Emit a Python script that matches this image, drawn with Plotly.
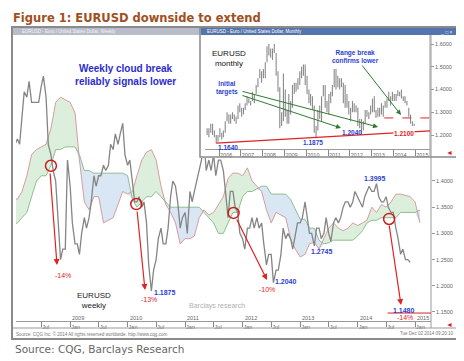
import numpy as np
import pandas as pd
import plotly.graph_objects as go

W, H = 464, 361
def px(x): return x / W
def py(y): return 1 - y / H

# ---------------- weekly chart: EURUSD (semi-monthly samples) ----------------
close_2008 = [1.46,1.47,1.48,1.47,1.52,1.57,1.56,1.59,1.55,1.55,1.55,1.55,1.58,1.60,1.56,1.47,1.45,1.42,1.40,1.34,1.25,1.27,1.27,1.44]
close_2009 = [1.39,1.32,1.28,1.28,1.26,1.30,1.33,1.31,1.33,1.36,1.41,1.39,1.41,1.41,1.43,1.42,1.43,1.47,1.46,1.49,1.47,1.49,1.51,1.45]
close_2010 = [1.43,1.44,1.39,1.36,1.36,1.37,1.35,1.36,1.32,1.24,1.19,1.23,1.25,1.29,1.31,1.28,1.28,1.31,1.37,1.40,1.39,1.36,1.31,1.33]
close_2011 = [1.34,1.30,1.38,1.36,1.38,1.40,1.42,1.44,1.48,1.42,1.44,1.42,1.45,1.41,1.44,1.44,1.42,1.37,1.33,1.38,1.38,1.35,1.34,1.30]
close_2012 = [1.29,1.27,1.31,1.31,1.33,1.31,1.33,1.31,1.32,1.28,1.24,1.26,1.26,1.206,1.23,1.23,1.26,1.31,1.29,1.30,1.29,1.27,1.30,1.32]
close_2013 = [1.32,1.33,1.36,1.33,1.30,1.30,1.276,1.31,1.31,1.29,1.30,1.33,1.30,1.285,1.32,1.33,1.32,1.33,1.35,1.36,1.36,1.35,1.36,1.38]
close_2014 = [1.37,1.36,1.35,1.37,1.38,1.39,1.38,1.38,1.395,1.37,1.36,1.36,1.37,1.35,1.34,1.34,1.31,1.29,1.26,1.27,1.25,1.25,1.245]
price = close_2008 + close_2009 + close_2010 + close_2011 + close_2012 + close_2013 + close_2014
price_dates = pd.date_range('2008-01-01', periods=len(price), freq='SMS')

# Ichimoku cloud (monthly readings): span A (pink) and span B (green)
span_a_2008 = [1.37,1.365,1.38,1.41,1.45,1.46,1.465,1.47,1.50,1.55,1.56,1.555]
span_b_2008 = [1.315,1.32,1.33,1.34,1.37,1.40,1.41,1.41,1.43,1.46,1.46,1.465]
span_a_2009 = [1.55,1.53,1.44,1.36,1.345,1.37,1.37,1.32,1.325,1.33,1.355,1.38]
span_b_2009 = [1.465,1.465,1.45,1.42,1.42,1.415,1.415,1.415,1.415,1.415,1.415,1.415]
span_a_2010 = [1.375,1.38,1.41,1.44,1.455,1.46,1.44,1.39,1.355,1.34,1.32,1.28]
span_b_2010 = [1.41,1.365,1.35,1.36,1.37,1.37,1.38,1.37,1.36,1.35,1.35,1.35]
span_a_2011 = [1.29,1.29,1.295,1.33,1.345,1.335,1.34,1.355,1.37,1.405,1.415,1.415]
span_b_2011 = [1.35,1.35,1.35,1.35,1.34,1.33,1.32,1.30,1.30,1.32,1.34,1.34]
span_a_2012 = [1.41,1.425,1.40,1.39,1.38,1.345,1.32,1.34,1.335,1.33,1.29,1.27]
span_b_2012 = [1.37,1.38,1.38,1.385,1.39,1.39,1.375,1.375,1.375,1.375,1.365,1.345]
span_a_2013 = [1.255,1.26,1.28,1.283,1.27,1.29,1.31,1.32,1.31,1.305,1.31,1.32]
span_b_2013 = [1.327,1.327,1.31,1.31,1.287,1.28,1.282,1.287,1.287,1.287,1.287,1.287]
span_a_2014 = [1.315,1.32,1.325,1.35,1.34,1.355,1.35,1.36,1.375,1.375,1.373,1.37]
span_b_2014 = [1.295,1.305,1.32,1.325,1.325,1.33,1.33,1.33,1.33,1.34,1.34,1.34]
span_a_2015 = [1.36,1.32]
span_b_2015 = [1.34,1.345]
span_a = span_a_2008 + span_a_2009 + span_a_2010 + span_a_2011 + span_a_2012 + span_a_2013 + span_a_2014 + span_a_2015
span_b = span_b_2008 + span_b_2009 + span_b_2010 + span_b_2011 + span_b_2012 + span_b_2013 + span_b_2014 + span_b_2015
cloud_dates = pd.date_range('2008-01-01', periods=len(span_a), freq='MS')
cloud_low = np.minimum(span_a, span_b)

break_dates = ['2008-09-01', '2010-02-25', '2011-11-05', '2014-07-20']
break_prices = [1.429, 1.356, 1.339, 1.3275]
target_level = 1.148

main_ytick_vals = [1.15, 1.20, 1.25, 1.30, 1.35, 1.40]
main_tick_dates = pd.date_range('2008-07-01', '2015-01-01', freq='6MS')
main_tick_text = ['Jul' if d.month == 7 else 'Jan' for d in main_tick_dates]
main_years = [2009, 2010, 2011, 2012, 2013, 2014, 2015]

# ---------------- monthly inset: EURUSD monthly high / low ----------------
m_low_2005 = [1.20,1.19,1.21,1.20,1.19,1.164,1.17]
m_high_2005 = [1.23,1.23,1.25,1.25,1.22,1.20,1.20]
m_low_2006 = [1.19,1.18,1.19,1.21,1.26,1.25,1.25,1.27,1.26,1.25,1.27,1.30]
m_high_2006 = [1.23,1.21,1.22,1.26,1.30,1.29,1.29,1.30,1.29,1.28,1.33,1.34]
m_low_2007 = [1.28,1.29,1.31,1.33,1.34,1.33,1.35,1.34,1.38,1.41,1.45,1.43]
m_high_2007 = [1.32,1.32,1.34,1.37,1.36,1.35,1.39,1.38,1.42,1.45,1.49,1.48]
m_low_2008 = [1.45,1.45,1.52,1.55,1.54,1.53,1.56,1.46,1.39,1.23,1.24,1.26]
m_high_2008 = [1.49,1.52,1.59,1.60,1.58,1.58,1.60,1.56,1.48,1.41,1.30,1.47]
m_low_2009 = [1.28,1.25,1.25,1.29,1.32,1.38,1.39,1.40,1.42,1.45,1.46,1.42]
m_high_2009 = [1.40,1.31,1.38,1.35,1.42,1.43,1.43,1.45,1.48,1.50,1.51,1.51]
m_low_2010 = [1.38,1.34,1.33,1.31,1.21,1.1875,1.22,1.27,1.26,1.37,1.32,1.30]
m_high_2010 = [1.46,1.40,1.38,1.37,1.33,1.24,1.31,1.33,1.37,1.42,1.42,1.35]
m_low_2011 = [1.29,1.34,1.37,1.41,1.40,1.41,1.40,1.41,1.34,1.32,1.32,1.29]
m_high_2011 = [1.38,1.39,1.42,1.49,1.49,1.46,1.45,1.45,1.43,1.42,1.38,1.35]
m_low_2012 = [1.26,1.30,1.30,1.30,1.24,1.23,1.2042,1.22,1.25,1.28,1.27,1.29]
m_high_2012 = [1.32,1.35,1.34,1.33,1.32,1.27,1.27,1.26,1.31,1.31,1.30,1.33]
m_low_2013 = [1.30,1.30,1.2745,1.28,1.28,1.29,1.28,1.32,1.32,1.35,1.33,1.35]
m_high_2013 = [1.36,1.37,1.31,1.32,1.32,1.34,1.33,1.35,1.36,1.39,1.37,1.39]
m_low_2014 = [1.35,1.35,1.37,1.37,1.36,1.35,1.34,1.33,1.28,1.25,1.24,1.24]
m_high_2014 = [1.38,1.38,1.3967,1.39,1.3995,1.37,1.37,1.35,1.32,1.29,1.26,1.25]
m_low = m_low_2005 + m_low_2006 + m_low_2007 + m_low_2008 + m_low_2009 + m_low_2010 + m_low_2011 + m_low_2012 + m_low_2013 + m_low_2014
m_high = m_high_2005 + m_high_2006 + m_high_2007 + m_high_2008 + m_high_2009 + m_high_2010 + m_high_2011 + m_high_2012 + m_high_2013 + m_high_2014
m_dates = pd.date_range('2005-06-01', periods=len(m_low), freq='MS') + pd.Timedelta(days=14)

inset_ytick_vals = [1.2, 1.3, 1.4, 1.5, 1.6]
inset_years = list(range(2006, 2016))
support_start = ('2005-11-15', 1.164)
support_end = ('2015-09-06', 1.218)
range_break_level = 1.275

# ---------------- figure ----------------
fig = go.Figure()
GREEN_FILL = '#dcefdc'
BLUE_FILL = '#d9e6f4'
PINK = '#d69292'
GREEN = '#86b886'
RED = '#e02222'
BLUE_TXT = '#2d3fd3'

fig.add_trace(go.Scatter(x=cloud_dates, y=cloud_low, mode='lines', line=dict(width=0), hoverinfo='skip'))
fig.add_trace(go.Scatter(x=cloud_dates, y=span_a, mode='lines', line=dict(width=0), fill='tonexty', fillcolor=GREEN_FILL, hoverinfo='skip'))
fig.add_trace(go.Scatter(x=cloud_dates, y=cloud_low, mode='lines', line=dict(width=0), hoverinfo='skip'))
fig.add_trace(go.Scatter(x=cloud_dates, y=span_b, mode='lines', line=dict(width=0), fill='tonexty', fillcolor=BLUE_FILL, hoverinfo='skip'))
fig.add_trace(go.Scatter(x=cloud_dates, y=span_a, mode='lines', line=dict(color=PINK, width=0.9)))
fig.add_trace(go.Scatter(x=cloud_dates, y=span_b, mode='lines', line=dict(color=GREEN, width=0.9)))
fig.add_trace(go.Scatter(x=price_dates, y=price, mode='lines', line=dict(color='#858585', width=1.3)))
fig.add_trace(go.Scatter(x=break_dates, y=break_prices, mode='markers',
                         marker=dict(symbol='circle-open', size=11, color='#d01c1c', line=dict(width=1.5))))

# mask subplot (covers main chart beneath the inset window)
fig.add_trace(go.Scatter(x=[None], y=[None], xaxis='x2', yaxis='y2', hoverinfo='skip'))

# inset monthly bars
bx, by = [], []
for d, lo, hi in zip(m_dates, m_low, m_high):
    bx += [d, d, None]
    by += [lo, hi, None]
fig.add_trace(go.Scatter(x=bx, y=by, mode='lines', line=dict(color='#8a8a8a', width=1.1),
                         xaxis='x3', yaxis='y3', hoverinfo='skip'))

tickfont = dict(family='Liberation Sans', size=5.5, color='#666')

fig.update_layout(
    width=W, height=H, margin=dict(l=0, r=0, t=0, b=0),
    paper_bgcolor='white', plot_bgcolor='white', showlegend=False, hovermode=False,
    font=dict(family='Liberation Sans'),
    xaxis=dict(domain=[px(8), px(423)], range=['2008-01-23', '2015-04-12'], type='date',
               showgrid=False, zeroline=False, showline=True, linecolor='#999', linewidth=1,
               tickvals=list(main_tick_dates), ticktext=main_tick_text, ticks='outside', ticklen=5,
               tickcolor='#888', tickfont=tickfont, ticklabelposition='outside right', anchor='y'),
    yaxis=dict(domain=[py(313), py(28)], range=[1.1328, 1.6767], side='right', showgrid=False,
               zeroline=False, showline=False, tickvals=main_ytick_vals,
               ticktext=['%.4f' % v for v in main_ytick_vals], ticks='outside', ticklen=3,
               tickcolor='#999', tickfont=tickfont, anchor='x'),
    xaxis2=dict(domain=[px(192), px(450)], range=[0, 1], visible=False, anchor='y2'),
    yaxis2=dict(domain=[py(150), py(20)], range=[0, 1], visible=False, anchor='x2'),
    xaxis3=dict(domain=[px(197), px(422)], range=['2005-05-11', '2015-09-06'], type='date',
                showgrid=False, zeroline=False, showline=True, linecolor='#999', linewidth=1,
                tickvals=['%d-01-01' % y for y in inset_years], ticktext=[str(y) for y in inset_years],
                ticks='outside', ticklen=6, tickcolor='#888', tickfont=tickfont,
                ticklabelposition='outside right', anchor='y3'),
    yaxis3=dict(domain=[py(141), py(28)], range=[1.1385, 1.6352], side='right', showgrid=False,
                zeroline=False, tickvals=inset_ytick_vals, ticktext=['%.4f' % v for v in inset_ytick_vals],
                ticks='outside', ticklen=3, tickcolor='#999', tickfont=tickfont, anchor='x3'),
)

shapes = []
def prect(x0, y0, x1, y1, **kw):
    d = dict(type='rect', xref='paper', yref='paper', x0=px(x0), y0=py(y1), x1=px(x1), y1=py(y0))
    d.update(kw)
    shapes.append(d)
def pline(x0, y0, x1, y1, color, width=1, dash='solid'):
    shapes.append(dict(type='line', xref='paper', yref='paper', x0=px(x0), y0=py(y0), x1=px(x1), y1=py(y1),
                       line=dict(color=color, width=width, dash=dash)))

# main window
prect(4, 19, 451, 331, line=dict(color='#8a8a8a', width=2))
prect(5, 20, 450, 27, fillcolor='#b9bdca', line=dict(width=0))
pline(423, 27, 423, 320, '#9a9a9a')
pline(5, 320, 450, 320, '#9a9a9a')
# inset window
prect(192, 20, 450, 149, line=dict(color='#8a8a8a', width=1.5))
prect(193, 20, 450, 27, fillcolor='#5573ad', line=dict(width=0))
pline(422, 27, 422, 149, '#9a9a9a')

# data-linked lines
shapes.append(dict(type='line', xref='x', yref='y', x0='2014-07-10', x1='2015-04-12',
                   y0=target_level, y1=target_level, line=dict(color=RED, width=1)))
shapes.append(dict(type='line', xref='x3', yref='y3', x0=support_start[0], y0=support_start[1],
                   x1=support_end[0], y1=support_end[1], line=dict(color=RED, width=1.3)))
shapes.append(dict(type='line', xref='x3', yref='y3', x0='2013-08-01', x1=support_end[0],
                   y0=range_break_level, y1=range_break_level, line=dict(color=RED, width=1, dash='dash')))
fig.update_layout(shapes=shapes)

ann = []
def text(x, y, t, size=7, color='#000', anchor='left', bold=False, family='Liberation Sans', **kw):
    if bold:
        t = '<b>' + t.replace('<br>', '</b><br><b>') + '</b>'
    d = dict(x=px(x), y=py(y), xref='paper', yref='paper', text=t, showarrow=False,
             xanchor=anchor, yanchor='middle', font=dict(size=size, color=color, family=family))
    d.update(kw)
    ann.append(d)
def arrow(tail, tip, color, width=1.2):
    ann.append(dict(x=px(tip[0]), y=py(tip[1]), xref='paper', yref='paper', text='', showarrow=True,
                    ax=tail[0] - tip[0], ay=tail[1] - tip[1], axref='pixel', ayref='pixel',
                    arrowhead=2, arrowsize=1, arrowwidth=width, arrowcolor=color, standoff=0))

text(3, 10, 'Figure 1: EURUSD downside to extend', size=11.5, color='#A0501E', bold=True, family='DejaVu Sans')
text(5, 341, 'Source: CQG, Barclays Research', size=10.5, color='#666', family='DejaVu Sans')

text(12, 23.5, 'EURUSD - Euro / United States Dollar, Weekly', size=4.5, color='#f4f4f8')
text(197, 23.5, 'EURUSD - Euro / United States Dollar, Monthly', size=4.5, color='#ffffff')
text(447, 23.5, '_ □ ×', size=5, color='#e8e8e8', anchor='right')
text(6, 325.5, 'Source: CQG Inc. © 2014 All rights reserved worldwide. http://www.cqg.com', size=4.5, color='#777')
text(448, 325.5, 'Tue Dec 02 2014 09:20:10', size=4.5, color='#777', anchor='right')
text(436, 316, '◄', size=7, color='#e02020', anchor='left')
text(436, 144, '◄', size=7, color='#e02020', anchor='left')

for yr in main_years:
    ann.append(dict(x='%d-01-01' % yr, y=py(309.5), xref='x', yref='paper', text=str(yr), showarrow=False,
                    xanchor='left', yanchor='middle', font=dict(size=5.5, color='#666', family='Liberation Sans')))

text(117, 67, 'Weekly cloud break<br>reliably signals lower', size=10, color='#2b2bcf', anchor='center', bold=True)
text(67, 292, 'EURUSD<br>weekly', size=8, color='#222')
text(209, 298, 'Barclays research', size=7, color='#b0b0b0', anchor='center')

for lbl, x, y in [('1.3995', 367, 171), ('1.2745', 314, 243), ('1.2040', 278, 273),
                  ('1.1875', 157, 284), ('1.1480', 396, 302)]:
    text(x, y, lbl, size=7, color=BLUE_TXT, anchor='center', bold=True)
for lbl, x, y in [('-14%', 55, 267), ('-13%', 141, 291), ('-10%', 259, 281), ('-14%', 397, 309.5)]:
    text(x, y, lbl, size=7, color=RED, anchor='center')

arrow((42, 164), (49, 257), RED)
arrow((129, 202), (137, 282), RED)
arrow((228, 210), (259, 272), RED)
arrow((381, 216), (393, 297), RED)

# inset texts
text(202, 50, 'EURUSD<br>monthly', size=8, color='#111')
text(219, 80, 'Initial<br>targets', size=6.5, color=BLUE_TXT, anchor='center', bold=True)
text(347, 48, 'Range break<br>confirms lower', size=6.5, color=BLUE_TXT, anchor='center', bold=True)
text(220, 139, '1.1640', size=6.5, color=BLUE_TXT, anchor='center', bold=True)
text(305, 134, '1.1875', size=6.5, color=BLUE_TXT, anchor='center', bold=True)
text(344, 124, '1.2040', size=6.5, color=BLUE_TXT, anchor='center', bold=True)
text(396, 125, '1.2100', size=6.5, color=RED, anchor='center', bold=True, bgcolor='white', borderpad=0)

DG = '#2f7a2f'
arrow((233, 83), (370, 119), DG, 1)
arrow((233, 87), (333, 120), DG, 1)
arrow((353, 56), (393, 107), DG, 1)

fig.update_layout(annotations=ann)
fig.write_html('out.html')
